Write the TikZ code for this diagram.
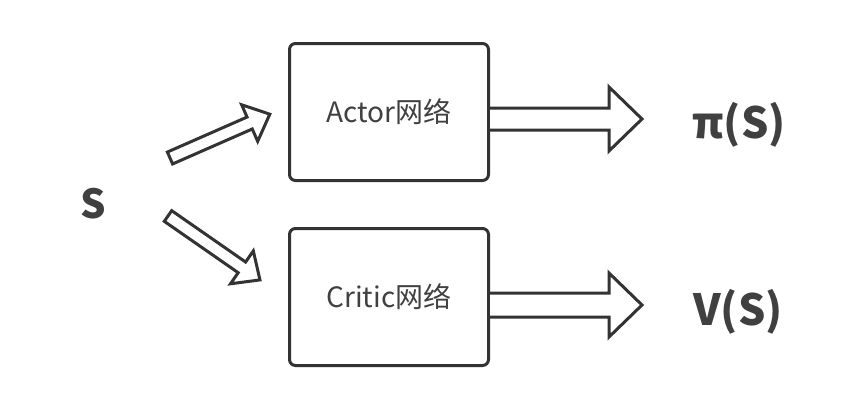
\documentclass[tikz,border=0pt]{standalone}
\usepackage{fontspec}
\setmainfont{Noto Sans CJK SC}
\usetikzlibrary{calc}
\definecolor{lc}{HTML}{333333}
\definecolor{tc}{HTML}{404040}
\tikzset{
  box/.style={draw=lc, line width=3pt, rounded corners=6pt, minimum width=199pt, minimum height=137pt, inner sep=0pt, text=tc, font=\fontsize{28}{32}\selectfont},
  blk/.style={draw=lc, line width=3pt, line join=miter, fill=white},
  big/.style={text=tc, font=\fontsize{43}{46}\selectfont\bfseries, inner sep=0pt},
}
\begin{document}
\begin{tikzpicture}[x=1pt,y=-1pt]
\useasboundingbox (0,0) rectangle (844,402);
\node[box] (actor) at (389,112) {Actor网络};
\node[box] (critic) at (389,297) {Critic网络};
\node[big, font=\fontsize{40}{44}\selectfont\bfseries] (s) at (93,204) {S};
\node[big] (pi) at (739,125) {π(S)};
\node[big] (v) at (738,312) {V(S)};
% right block arrows
\coordinate (a1) at (490,119);
\coordinate (a2) at (490,305);
\draw[blk] ($(a1)+(0,-11)$) -- ++(119,0) -- ++(0,-21) -- ++(33,32) -- ++(-33,32) -- ++(0,-21) -- ++(-119,0);
\draw[blk] ($(a2)+(0,-12)$) -- ++(119,0) -- ++(0,-20) -- ++(33,32) -- ++(-33,32) -- ++(0,-20) -- ++(-119,0);
% diagonal block arrows
\coordinate (d1) at (170,158);
\coordinate (d2) at (168,216);
\begin{scope}[shift={(d1)}, rotate=23.7]
\draw[blk] (0,-6.5) -- (87,-6.5) -- (87,-20) -- (109,0) -- (87,20) -- (87,6.5) -- (0,6.5) -- cycle;
\end{scope}
\begin{scope}[shift={(d2)}, rotate=-34.8]
\draw[blk] (0,-6.5) -- (90,-6.5) -- (90,-20) -- (112,0) -- (90,20) -- (90,6.5) -- (0,6.5) -- cycle;
\end{scope}
\end{tikzpicture}
\end{document}
